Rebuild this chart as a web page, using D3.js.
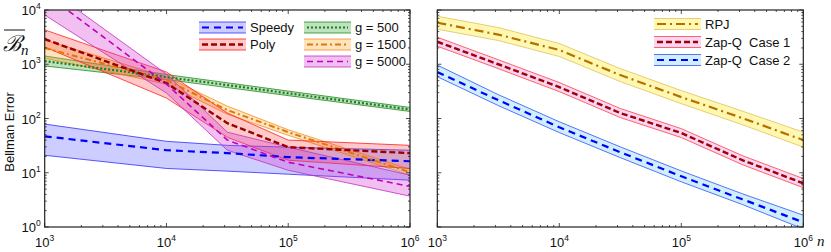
<!DOCTYPE html>
<html>
<head>
<meta charset="utf-8">
<script src="https://cdn.jsdelivr.net/npm/d3@7"></script>
<style>
  body { margin: 0; background: #fff; }
  svg { display: block; font-family: "Liberation Sans", Arial, sans-serif; }
</style>
</head>
<body>
<div id="chart"></div>
<script>
// sample points (n) for each panel
const nLeft = [1000, 10000, 31623, 100000, 1000000];
const nRight = [1000, 3162, 10000, 31623, 100000, 316228, 1000000];

// left panel: mean, upper and lower band
const speedyMean = [47, 26, 23, 19.4, 16.3];
const speedyHi = [79, 38, 32, 29.6, 26];
const speedyLo = [21, 12, 10.7, 9.4, 7.3];
const polyMean = [2900, 450, 82, 29.6, 23];
const polyHi = [4300, 720, 126, 40, 32];
const polyLo = [2080, 238, 45, 17, 12];
const g500Mean = [1145, 580, 413, 291, 147];
const g500Hi = [1420, 646, 455, 320, 160];
const g500Lo = [930, 522, 372, 264, 135];
const g1500Mean = [1990, 510, 143, 56, 10.2];
const g1500Hi = [2800, 580, 169, 62, 11.6];
const g1500Lo = [1300, 430, 120, 49, 9.0];
const g5000Mean = [20500, 431, 40, 15.6, 5.6];
const g5000Hi = [27500, 659, 56, 29.6, 9.0];
const g5000Lo = [8100, 294, 26, 11.1, 3.7];

// right panel
const rpjMean = [5830, 3520, 1830, 632, 248, 102, 40];
const rpjHi = [7690, 4750, 2410, 832, 327, 137, 56];
const rpjLo = [4430, 2740, 1390, 479, 188, 77, 29.6];
const zap1Mean = [2600, 1000, 379, 126, 54, 17.1, 6.4];
const zap1Hi = [3150, 1210, 460, 153, 65, 20.7, 7.8];
const zap1Lo = [2150, 830, 313, 104, 44.5, 14.1, 5.3];
const zap2Mean = [718, 218, 69, 23.9, 8.6, 3.25, 1.22];
const zap2Hi = [966, 275, 87, 30, 10.8, 4.1, 1.65];
const zap2Lo = [590, 173, 55, 19, 6.8, 2.6, 0.92];

const xTicks = [1e3, 1e4, 1e5, 1e6];
const yTicks = [1e0, 1e1, 1e2, 1e3, 1e4];
const legendLeftA = ["Speedy", "Poly"];
const legendLeftB = ["g = 500", "g = 1500", "g = 5000"];
const legendRight = ["RPJ", "Zap-Q  Case 1", "Zap-Q  Case 2"];

const w = 831, h = 252;
const plotTop = 10, plotBottom = 227;

const svg = d3.select("#chart").append("svg").attr("width", w).attr("height", h);

const yScale = d3.scaleLog().domain([1, 1e4]).range([plotBottom, plotTop]);
const xLeft = d3.scaleLog().domain([1e3, 1e6]).range([44.7, 410]);
const xRight = d3.scaleLog().domain([1e3, 1e6]).range([437.3, 803.3]);

const series = {
  speedy: {mean: speedyMean, hi: speedyHi, lo: speedyLo, line: "#0000ff", edge: "#3030ff", fill: "rgba(60,60,255,0.26)", dash: "7,5", width: 2.2},
  poly: {mean: polyMean, hi: polyHi, lo: polyLo, line: "#990000", edge: "#ff2020", fill: "rgba(255,40,40,0.25)", dash: "6,3", width: 2.4},
  g500: {mean: g500Mean, hi: g500Hi, lo: g500Lo, line: "#1e7a1e", edge: "#228b22", fill: "rgba(40,160,40,0.3)", dash: "2,2", width: 2.2},
  g1500: {mean: g1500Mean, hi: g1500Hi, lo: g1500Lo, line: "#e07800", edge: "#f09020", fill: "rgba(255,160,40,0.3)", dash: "6,3,2,3", width: 2},
  g5000: {mean: g5000Mean, hi: g5000Hi, lo: g5000Lo, line: "#c000c0", edge: "#c030c0", fill: "rgba(210,60,210,0.32)", dash: "6,4", width: 1.6},
  rpj: {mean: rpjMean, hi: rpjHi, lo: rpjLo, line: "#b86e00", edge: "#e0c060", fill: "rgba(255,240,80,0.45)", dash: "9,4,2,4", width: 2.2},
  zap1: {mean: zap1Mean, hi: zap1Hi, lo: zap1Lo, line: "#a00000", edge: "#ff4040", fill: "rgba(245,150,230,0.4)", dash: "6,3", width: 2.4},
  zap2: {mean: zap2Mean, hi: zap2Hi, lo: zap2Lo, line: "#0000ff", edge: "#3050ff", fill: "rgba(120,210,245,0.35)", dash: "7,5", width: 2.2}
};

function panel(id, xScale, ns, keys, showYLabels) {
  const g = svg.append("g");
  const x0 = xScale.range()[0], x1 = xScale.range()[1];

  svg.append("clipPath").attr("id", id).append("rect")
    .attr("x", x0).attr("y", plotTop).attr("width", x1 - x0).attr("height", plotBottom - plotTop);
  const plot = g.append("g").attr("clip-path", `url(#${id})`);

  const area = d3.area().x(d => xScale(d[0])).y0(d => yScale(d[1])).y1(d => yScale(d[2]));
  const line = d3.line().x(d => xScale(d[0])).y(d => yScale(d[1]));

  keys.forEach(k => {
    const s = series[k];
    plot.append("path").datum(ns.map((n, i) => [n, s.lo[i], s.hi[i]]))
      .attr("d", area).attr("fill", s.fill).attr("stroke", "none");
    plot.append("path").datum(ns.map((n, i) => [n, s.hi[i]]))
      .attr("d", line).attr("fill", "none").attr("stroke", s.edge).attr("stroke-width", 0.8);
    plot.append("path").datum(ns.map((n, i) => [n, s.lo[i]]))
      .attr("d", line).attr("fill", "none").attr("stroke", s.edge).attr("stroke-width", 0.8);
  });
  keys.forEach(k => {
    const s = series[k];
    plot.append("path").datum(ns.map((n, i) => [n, s.mean[i]]))
      .attr("d", line).attr("fill", "none").attr("stroke", s.line)
      .attr("stroke-width", s.width).attr("stroke-dasharray", s.dash);
  });

  // axes with inward ticks on all four sides
  const xMinor = xScale.ticks(30);
  const yMinor = yScale.ticks(40);
  const ax = g.append("g").attr("stroke", "#222").attr("stroke-width", 0.8);
  xMinor.forEach(t => {
    const major = xTicks.includes(t);
    const len = major ? 4 : 2;
    const x = xScale(t);
    ax.append("line").attr("x1", x).attr("x2", x).attr("y1", plotBottom).attr("y2", plotBottom - len);
    ax.append("line").attr("x1", x).attr("x2", x).attr("y1", plotTop).attr("y2", plotTop + len);
  });
  yMinor.forEach(t => {
    const major = yTicks.includes(t);
    const len = major ? 4 : 2;
    const y = yScale(t);
    ax.append("line").attr("x1", x0).attr("x2", x0 + len).attr("y1", y).attr("y2", y);
    ax.append("line").attr("x1", x1).attr("x2", x1 - len).attr("y1", y).attr("y2", y);
  });
  g.append("rect").attr("x", x0).attr("y", plotTop).attr("width", x1 - x0).attr("height", plotBottom - plotTop)
    .attr("fill", "none").attr("stroke", "#222").attr("stroke-width", 1.2);

  xTicks.forEach(t => {
    const tx = g.append("text").attr("x", xScale(t)).attr("y", 247).attr("text-anchor", "middle")
      .attr("font-size", 13).attr("fill", "#111");
    tx.append("tspan").text("10");
    tx.append("tspan").text(Math.round(Math.log10(t))).attr("font-size", 8.5).attr("dy", -6);
  });
  if (showYLabels) {
    yTicks.forEach(t => {
      const ty = g.append("text").attr("x", x0 - 4).attr("y", yScale(t) + 5).attr("text-anchor", "end")
        .attr("font-size", 13).attr("fill", "#111");
      ty.append("tspan").text("10");
      ty.append("tspan").text(Math.round(Math.log10(t))).attr("font-size", 8.5).attr("dy", -6);
    });
  }
  return g;
}

panel("clipL", xLeft, nLeft, ["speedy", "g500", "g1500", "poly", "g5000"], true);
panel("clipR", xRight, nRight, ["rpj", "zap1", "zap2"], false);

function legendItem(x, y, key, label) {
  const s = series[key];
  const lg = svg.append("g");
  lg.append("rect").attr("x", x).attr("y", y - 5.5).attr("width", 47).attr("height", 11).attr("fill", s.fill);
  lg.append("line").attr("x1", x).attr("x2", x + 47).attr("y1", y - 5.5).attr("y2", y - 5.5).attr("stroke", s.edge).attr("stroke-width", 0.8);
  lg.append("line").attr("x1", x).attr("x2", x + 47).attr("y1", y + 5.5).attr("y2", y + 5.5).attr("stroke", s.edge).attr("stroke-width", 0.8);
  lg.append("line").attr("x1", x + 3).attr("x2", x + 44).attr("y1", y).attr("y2", y)
    .attr("stroke", s.line).attr("stroke-width", s.width).attr("stroke-dasharray", s.dash);
  lg.append("text").attr("x", x + 51).attr("y", y + 4.5).attr("font-size", 13).attr("fill", "#111")
    .style("white-space", "pre").text(label);
}

legendItem(199, 27.5, "speedy", legendLeftA[0]);
legendItem(199, 44.5, "poly", legendLeftA[1]);
legendItem(304, 27.5, "g500", legendLeftB[0]);
legendItem(304, 44.5, "g1500", legendLeftB[1]);
legendItem(304, 61.5, "g5000", legendLeftB[2]);
legendItem(654, 24, "rpj", legendRight[0]);
legendItem(654, 42, "zap1", legendRight[1]);
legendItem(654, 60, "zap2", legendRight[2]);

// axis titles
svg.append("text").attr("transform", "translate(14,132) rotate(-90)").attr("text-anchor", "middle")
  .attr("font-size", 13).attr("fill", "#111").text("Bellman Error");

const bl = svg.append("text").attr("x", 3).attr("y", 51).attr("fill", "#111");
bl.append("tspan").text("\u212C").attr("font-size", 22).attr("font-family", "DejaVu Serif, serif").attr("font-style", "italic");
bl.append("tspan").text("n").attr("font-size", 15).attr("dy", 4).attr("font-family", "Liberation Serif, serif").attr("font-style", "italic");
svg.append("line").attr("x1", 4).attr("x2", 25).attr("y1", 30).attr("y2", 30).attr("stroke", "#111").attr("stroke-width", 1);

svg.append("text").attr("x", 817).attr("y", 246).attr("font-size", 15).attr("font-style", "italic")
  .attr("font-family", "Liberation Serif, serif").attr("fill", "#111").text("n");
</script>
</body>
</html>
